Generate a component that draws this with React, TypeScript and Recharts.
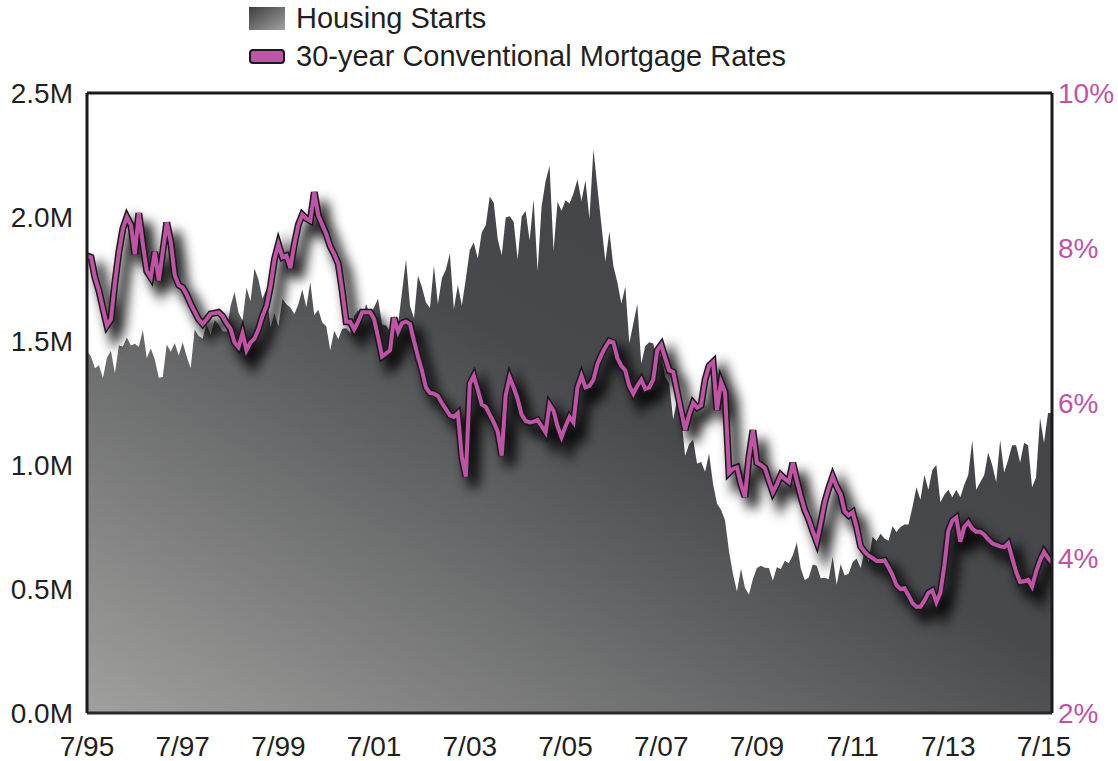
import React from "react";
import {
  ComposedChart,
  Area,
  Line,
  XAxis,
  YAxis,
  ReferenceLine,
} from "recharts";

// Housing starts, millions of units, monthly from 7/95 to 9/15
const housingStarts: number[] = [
  1.46,
  1.437, 1.39, 1.402, 1.351, 1.433, 1.46,
  1.37, 1.482, 1.478, 1.514, 1.482, 1.489, 1.476, 1.544, 1.43, 1.47, 1.425, 1.352,
  1.355, 1.486, 1.457, 1.492, 1.442, 1.494, 1.437, 1.39, 1.546, 1.52, 1.51, 1.566,
  1.525, 1.584, 1.567, 1.54, 1.536, 1.641, 1.698, 1.614, 1.582, 1.715, 1.66, 1.792,
  1.748, 1.67, 1.71, 1.553, 1.611, 1.559, 1.669, 1.648, 1.635, 1.608, 1.648, 1.708,
  1.636, 1.737, 1.604, 1.626, 1.575, 1.559, 1.463, 1.541, 1.507, 1.549, 1.551, 1.532,
  1.6, 1.625, 1.59, 1.649, 1.605, 1.636, 1.67, 1.567, 1.562, 1.54, 1.602, 1.568,
  1.698, 1.829, 1.642, 1.592, 1.764, 1.717, 1.655, 1.633, 1.804, 1.648, 1.753, 1.788,
  1.853, 1.629, 1.726, 1.643, 1.751, 1.867, 1.897, 1.833, 1.939, 1.967, 2.083, 2.057,
  1.911, 1.846, 1.998, 2.003, 1.981, 1.828, 2.002, 2.024, 1.905, 2.072, 1.782, 2.042,
  2.144, 2.207, 1.864, 2.061, 2.025, 2.068, 2.054, 2.095, 2.151, 2.065, 2.147, 1.994,
  2.273, 2.119, 1.969, 1.821, 1.942, 1.802, 1.737, 1.65, 1.72, 1.491, 1.57, 1.649,
  1.409, 1.48, 1.495, 1.49, 1.415, 1.448, 1.354, 1.33, 1.183, 1.264, 1.197, 1.037,
  1.084, 1.103, 1.005, 1.013, 0.973, 1.046, 0.923, 0.844, 0.82, 0.777, 0.652, 0.56,
  0.49, 0.582, 0.505, 0.478, 0.54, 0.585, 0.594, 0.586, 0.585, 0.534, 0.588, 0.581,
  0.614, 0.604, 0.636, 0.687, 0.583, 0.536, 0.546, 0.599, 0.594, 0.543, 0.545, 0.539,
  0.63, 0.517, 0.6, 0.554, 0.561, 0.608, 0.623, 0.585, 0.65, 0.61, 0.711, 0.694,
  0.723, 0.704, 0.695, 0.753, 0.73, 0.75, 0.76, 0.76, 0.83, 0.91, 0.86, 0.96,
  0.9, 0.98, 1.0, 0.85, 0.88, 0.9, 0.87, 0.9, 0.87, 0.92, 0.96, 1.1,
  0.9, 0.93, 0.96, 1.05, 1.0, 0.93, 1.1, 0.97, 1.02, 1.08, 1.08, 1.01,
  1.09, 1.08, 0.91, 0.95, 1.19, 1.09, 1.21, 1.21,
];

// 30-year conventional mortgage rate, percent, monthly from 7/95 to 9/15
const mortgageRates: number[] = [
  7.9, 7.88, 7.62, 7.45, 7.22, 7.0, 7.08, 7.55, 7.95, 8.25, 8.4, 8.3,
  7.92, 8.45, 8.05, 7.7, 7.62, 7.95, 7.58, 7.95, 8.33, 8.08, 7.65, 7.52,
  7.49, 7.4, 7.28, 7.18, 7.08, 7.02, 7.08, 7.15, 7.16, 7.17, 7.12, 7.03,
  6.96, 6.78, 6.72, 6.9, 6.68, 6.78, 6.83, 6.95, 7.12, 7.25, 7.5, 7.85,
  8.05, 7.88, 7.9, 7.74, 8.05, 8.3, 8.43, 8.38, 8.35, 8.72, 8.42, 8.3,
  8.18, 8.02, 7.92, 7.8, 7.45, 7.05, 7.05, 6.95, 7.05, 7.17, 7.17, 7.17,
  7.08, 6.85, 6.6, 6.64, 6.68, 7.1, 6.92, 7.03, 7.05, 7.02, 6.8, 6.6,
  6.42, 6.2, 6.13, 6.12, 6.09, 6.0, 5.92, 5.84, 5.82, 5.87, 5.3, 5.05,
  6.25, 6.35, 6.17, 5.98, 5.95, 5.85, 5.75, 5.63, 5.32, 6.1, 6.33, 6.2,
  6.05, 5.85, 5.77, 5.75, 5.76, 5.78, 5.7, 5.62, 5.98, 5.9, 5.7, 5.56,
  5.7, 5.82, 5.75, 6.2, 6.35, 6.2, 6.22, 6.3, 6.5, 6.62, 6.72, 6.8,
  6.78, 6.58, 6.48, 6.42, 6.22, 6.12, 6.22, 6.3, 6.18, 6.2, 6.3, 6.68,
  6.75, 6.58, 6.42, 6.4, 6.15, 5.9, 5.65, 5.85, 6.0, 5.94, 5.97, 6.3,
  6.48, 6.53, 5.91, 6.27, 6.14, 5.1, 5.15, 5.17, 4.95, 4.79, 5.3, 5.65,
  5.23, 5.2, 5.16, 5.0, 4.85, 4.95, 5.07, 5.02, 4.98, 5.23, 5.0, 4.8,
  4.62, 4.5, 4.35, 4.21, 4.45, 4.72, 4.9, 5.05, 4.92, 4.82, 4.6, 4.55,
  4.59, 4.4, 4.15, 4.08, 4.03, 4.0, 3.96, 3.96, 3.97, 3.88, 3.78, 3.65,
  3.6, 3.61, 3.52, 3.42, 3.37, 3.37, 3.45, 3.55, 3.58, 3.43, 3.55, 3.9,
  4.35, 4.48, 4.52, 4.21, 4.4, 4.46, 4.38, 4.34, 4.34, 4.3, 4.24, 4.19,
  4.17, 4.15, 4.14, 4.19, 4.0, 3.82, 3.69, 3.7, 3.72, 3.63, 3.82, 3.97,
  4.08, 4.0, 3.94,
];

const xTickIndex: number[] = [0, 24, 48, 72, 96, 120, 144, 168, 192, 216, 240];
const xTickLabels: string[] = ["7/95", "7/97", "7/99", "7/01", "7/03", "7/05", "7/07", "7/09", "7/11", "7/13", "7/15"];
const leftTicks: number[] = [0, 0.5, 1, 1.5, 2, 2.5];
const rightTicks: number[] = [2, 4, 6, 8, 10];
const seriesNames: string[] = ["Housing Starts", "30-year Conventional Mortgage Rates"];

const data = housingStarts.map((v, i) => ({
  i,
  starts: v,
  rate: mortgageRates[i],
}));

const MAGENTA = "#c153a7";
const FONT = "'Liberation Sans', Arial, Helvetica, sans-serif";

export default function App() {
  return (
    <div style={{ position: "absolute", left: 0, top: 0, width: 1118, height: 761, background: "#fff" }}>
      <ComposedChart
        width={1118}
        height={761}
        data={data}
        margin={{ top: 93, right: 0, bottom: 0, left: 0 }}
      >
        <defs>
          <linearGradient id="hsGrad" x1="0" y1="1" x2="1" y2="0">
            <stop offset="0" stopColor="#a0a09e" />
            <stop offset="0.55" stopColor="#48494c" />
            <stop offset="1" stopColor="#3f4043" />
          </linearGradient>
          <filter id="lineShadow" x="-10%" y="-30%" width="125%" height="170%">
            <feOffset in="SourceGraphic" dx="8" dy="10" result="off" />
            <feGaussianBlur in="off" stdDeviation="6" />
          </filter>
        </defs>
        <XAxis
          dataKey="i"
          type="number"
          domain={[0, 242]}
          ticks={xTickIndex}
          tickFormatter={(v: number) => xTickLabels[xTickIndex.indexOf(v)] ?? ""}
          height={48}
          tickLine={false}
          tickMargin={17}
          axisLine={{ stroke: "#2a2a2a", strokeWidth: 3 }}
          tick={{ fontSize: 28, fill: "#231f20", fontFamily: FONT }}
          allowDataOverflow
        />
        <YAxis
          yAxisId="left"
          domain={[0, 2.5]}
          ticks={leftTicks}
          tickFormatter={(v: number) => v.toFixed(1) + "M"}
          width={87}
          tickLine={false}
          tickMargin={8}
          axisLine={{ stroke: "#1a1a1a", strokeWidth: 3 }}
          tick={{ fontSize: 28, fill: "#231f20", fontFamily: FONT }}
          allowDataOverflow
        />
        <YAxis
          yAxisId="right"
          orientation="right"
          domain={[2, 10]}
          ticks={rightTicks}
          tickFormatter={(v: number) => v + "%"}
          width={66}
          tickLine={false}
          tickMargin={0}
          axisLine={{ stroke: "#1a1a1a", strokeWidth: 3 }}
          tick={{ fontSize: 28, fill: MAGENTA, fontFamily: FONT }}
          allowDataOverflow
        />
        <Area
          yAxisId="left"
          dataKey="starts"
          type="linear"
          fill="url(#hsGrad)"
          fillOpacity={1}
          stroke="none"
          isAnimationActive={false}
          dot={false}
          activeDot={false}
        />
        <Line
          yAxisId="right"
          dataKey="rate"
          type="linear"
          stroke="#000"
          strokeOpacity={0.85}
          strokeWidth={11}
          filter="url(#lineShadow)"
          dot={false}
          activeDot={false}
          isAnimationActive={false}
        />
        <Line
          yAxisId="right"
          dataKey="rate"
          type="linear"
          stroke="#1a1a1a"
          strokeWidth={7}
          dot={false}
          activeDot={false}
          isAnimationActive={false}
        />
        <Line
          yAxisId="right"
          dataKey="rate"
          type="linear"
          stroke={MAGENTA}
          strokeWidth={4}
          dot={false}
          activeDot={false}
          isAnimationActive={false}
        />
        <ReferenceLine
          yAxisId="left"
          y={2.5}
          stroke="#1a1a1a"
          strokeWidth={3}
          ifOverflow="visible"
        />
      </ComposedChart>
      <svg
        width={1118}
        height={90}
        style={{ position: "absolute", left: 0, top: 0, pointerEvents: "none" }}
      >
        <defs>
          <linearGradient id="legGrad" x1="0" y1="0" x2="1" y2="1">
            <stop offset="0" stopColor="#3c3d40" />
            <stop offset="1" stopColor="#a2a2a0" />
          </linearGradient>
        </defs>
        <rect x={249} y={7} width={36} height={23} fill="url(#legGrad)" />
        <text x={296} y={28} fontSize={29} fontFamily={FONT} fill="#231f20">
          {seriesNames[0]}
        </text>
        <rect x={250} y={50} width={34} height={13} rx={3} fill={MAGENTA} stroke="#1a1a1a" strokeWidth={2} />
        <text x={296} y={66} fontSize={29} fontFamily={FONT} fill="#231f20">
          {seriesNames[1]}
        </text>
      </svg>
    </div>
  );
}
